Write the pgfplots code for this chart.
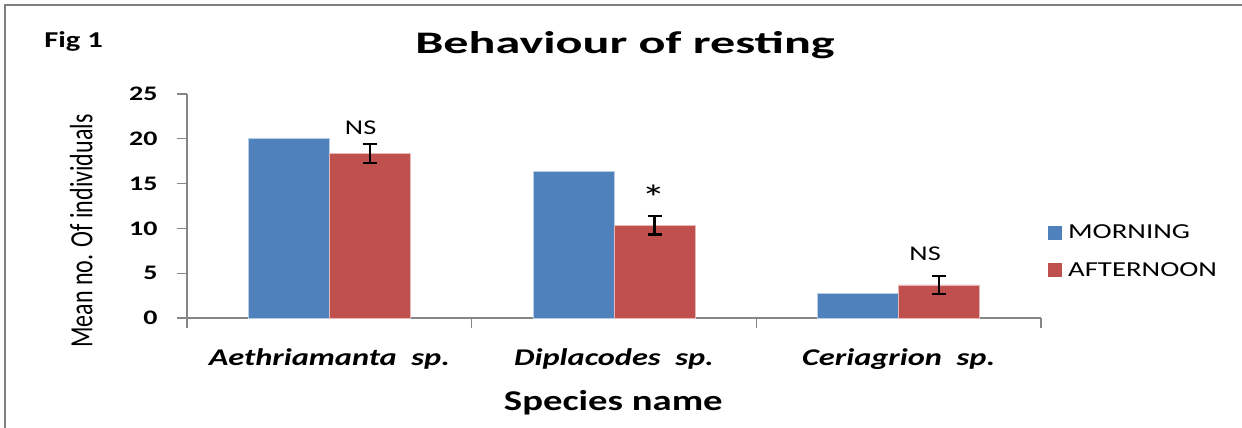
\documentclass[border=0pt]{standalone}
\usepackage{pgfplots}
\pgfplotsset{compat=1.18}
\usepackage{fontspec}
\setmainfont{Carlito}
\usepackage{graphicx}
\newcommand\hs[1]{\scalebox{1.35}[1]{#1}}
\definecolor{mblue}{HTML}{4F81BD}
\definecolor{mred}{HTML}{C0504D}
\definecolor{axgray}{HTML}{868686}
\begin{document}
\begin{tikzpicture}
\useasboundingbox (0,0) rectangle (931.5pt,321pt);
\fill[white] (0,0) rectangle (931.5pt,321pt);
\draw[line width=1.5pt, color=gray] (3.75pt,0pt) -- (3.75pt,317.25pt) -- (931.5pt,317.25pt);
\begin{axis}[
  at={(140.25pt,82.5pt)}, anchor=south west,
  scale only axis, width=640.5pt, height=168pt,
  xmin=-0.5, xmax=2.5, ymin=0, ymax=25,
  ybar=0pt, bar width=60.75pt,
  axis x line*=bottom, axis y line*=left,
  axis line style={draw=axgray, line width=0.9pt, -},
  ytick={0,5,10,15,20,25},
  yticklabels={\hs{0},\hs{5},\hs{10},\hs{15},\hs{20},\hs{25}},
  yticklabel style={font=\fontsize{15.5pt}{15.5pt}\selectfont\bfseries, anchor=east, inner sep=0pt, xshift=-14.5pt},
  tick align=outside, major tick length=7.5pt,
  tick style={draw=axgray, line width=0.9pt},
  xtick={-0.5,0.5,1.5,2.5}, xticklabels={},
  extra x ticks={0,1,2},
  extra x tick labels={\hs{Aethriamanta\ \ sp.},\hs{Diplacodes\ \ sp.},\hs{Ceriagrion\ \ sp.}},
  extra x tick style={major tick length=0pt, xticklabel style={font=\fontsize{18pt}{18pt}\selectfont\bfseries\itshape, anchor=base, inner sep=0pt, yshift=-36pt}},
  legend image code/.code={\draw[#1,/tikz/.cd,draw=none] (0pt,-5.25pt) rectangle (10.5pt,5.25pt);},
  legend style={draw=none, fill=none, at={(1.008,0.296)}, anchor=west, inner sep=0pt,
    font=\fontsize{16pt}{16pt}\selectfont, row sep=12.3pt,
    /tikz/every odd column/.append style={column sep=2.5pt}},
  legend cell align=left,
  clip=false,
]
\addplot[fill=mblue, draw=white!60!mblue, line width=0.5pt] coordinates {(0,20) (1,16.35) (2,2.7)};
\addplot[fill=mred, draw=white!60!mred, line width=0.5pt,
  error bars/.cd, y dir=both, y explicit,
  error bar style={black, line width=1.8pt},
  error mark options={black, line width=1.8pt, mark size=5.25pt, rotate=90}]
  coordinates {(0,18.35) +- (0,1.05) (1,10.35) +- (0,1.05) (2,3.7) +- (0,1.0)};
\legend{\hs{MORNING},\hs{AFTERNOON}}
\node[anchor=base, inner sep=0pt, font=\fontsize{15.75pt}{15.75pt}\selectfont] at (axis cs:0.11,20.5) {\hs{NS}};
\node[anchor=center, inner sep=0pt, font=\fontsize{27pt}{27pt}\selectfont] at (axis cs:1.139,13.45) {\hs{*}};
\node[anchor=base, inner sep=0pt, font=\fontsize{15.75pt}{15.75pt}\selectfont] at (axis cs:2.093,6.47) {\hs{NS}};
\end{axis}
\node[anchor=base, inner sep=0pt, font=\fontsize{23.5pt}{23.5pt}\selectfont\bfseries] at (468.75pt,281pt) {\scalebox{1.6}[1]{Behaviour of resting}};
\node[anchor=base west, inner sep=0pt, font=\fontsize{17pt}{17pt}\selectfont\bfseries] at (33pt,285pt) {\hs{Fig 1}};
\node[anchor=base, inner sep=0pt, font=\fontsize{21.5pt}{21.5pt}\selectfont\bfseries] at (460pt,13pt) {\hs{Species name}};
\node[anchor=center, inner sep=0pt] at (61pt,147.75pt) {\scalebox{1.35}[1]{\rotatebox{90}{\fontsize{18pt}{18pt}\selectfont Mean no. Of individuals}}};
\end{tikzpicture}
\end{document}
